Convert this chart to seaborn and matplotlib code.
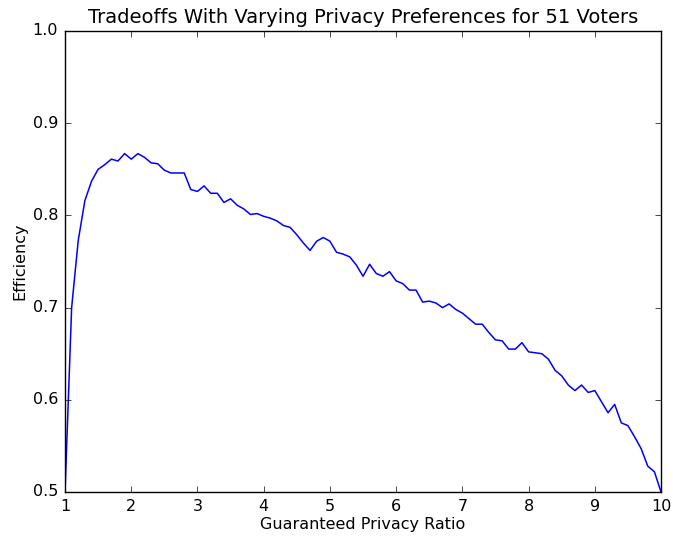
import numpy as np
import pandas as pd
import matplotlib
matplotlib.use("Agg")
import matplotlib.pyplot as plt
import seaborn as sns

# Guaranteed privacy ratio, 1.0 to 10.0 in steps of 0.1
ratio = np.round(np.arange(1.0, 10.01, 0.1), 1)

efficiency = [
    0.500, 0.700, 0.773, 0.816, 0.837, 0.850, 0.855, 0.861, 0.859, 0.867,
    0.861, 0.867, 0.863, 0.857, 0.856, 0.849, 0.846, 0.846, 0.846, 0.828,
    0.826, 0.832, 0.824, 0.824, 0.814, 0.818, 0.811, 0.807, 0.801, 0.802,
    0.799, 0.797, 0.794, 0.789, 0.787, 0.779, 0.770, 0.762, 0.772, 0.776,
    0.772, 0.760, 0.758, 0.755, 0.746, 0.734, 0.747, 0.737, 0.734, 0.739,
    0.729, 0.726, 0.719, 0.719, 0.706, 0.707, 0.705, 0.700, 0.704, 0.698,
    0.694, 0.688, 0.682, 0.682, 0.673, 0.665, 0.664, 0.655, 0.655, 0.662,
    0.652, 0.651, 0.650, 0.644, 0.632, 0.626, 0.616, 0.610, 0.616, 0.608,
    0.610, 0.598, 0.586, 0.595, 0.575, 0.572, 0.560, 0.547, 0.528, 0.522,
    0.500,
]

df = pd.DataFrame({"Guaranteed Privacy Ratio": ratio, "Efficiency": efficiency})

plt.style.use("classic")
plt.rcParams["font.family"] = ["DejaVu Sans"]

fig = plt.figure(figsize=(6.73, 5.37), dpi=100, facecolor="white")
ax = fig.add_axes([0.0966, 0.0838, 0.8856, 0.8585])

sns.lineplot(data=df, x="Guaranteed Privacy Ratio", y="Efficiency",
             color="#0000ff", linewidth=1.1, ax=ax)

ax.set_xlim(1, 10)
ax.set_ylim(0.5, 1.0)
ax.set_xticks(range(1, 11))
ax.set_yticks([0.5, 0.6, 0.7, 0.8, 0.9, 1.0])
ax.set_yticklabels(["0.5", "0.6", "0.7", "0.8", "0.9", "1.0"])
ax.tick_params(direction="in", length=4, top=True, right=True, labelsize=11.5, pad=5)
ax.set_xlabel("Guaranteed Privacy Ratio", fontsize=11.5, labelpad=2)
ax.set_ylabel("Efficiency", fontsize=11.5, labelpad=4)
ax.set_title("Tradeoffs With Varying Privacy Preferences for 51 Voters", fontsize=14.0, pad=6)
ax.set_facecolor("white")

fig.savefig("out.png", dpi=100, facecolor="white")
